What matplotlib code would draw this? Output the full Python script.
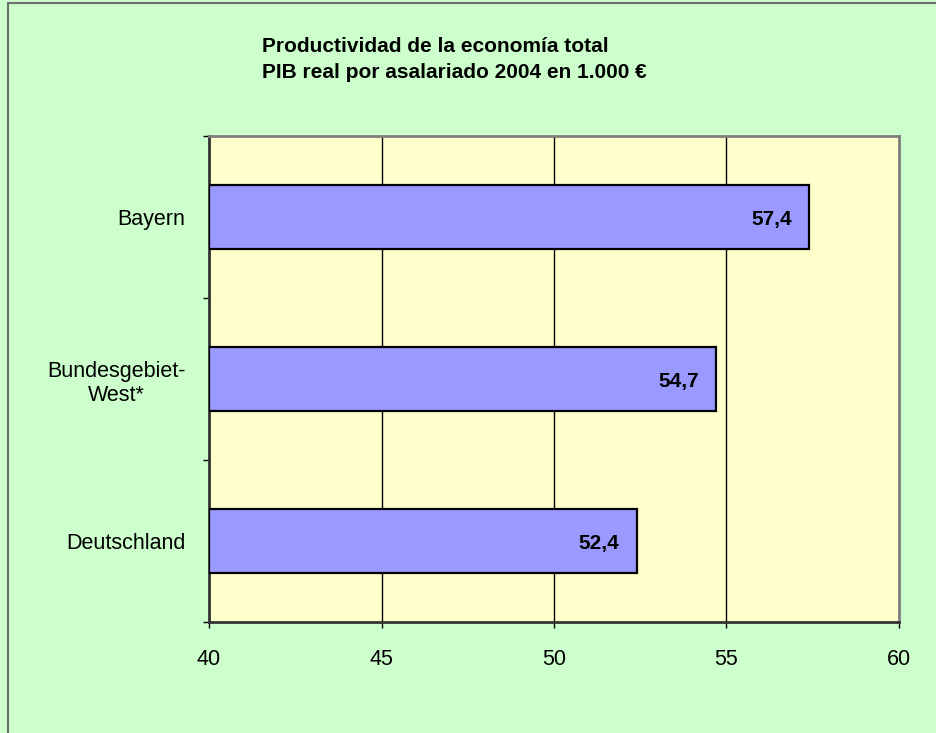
import matplotlib
matplotlib.use("Agg")
import matplotlib.pyplot as plt
from matplotlib.patches import Rectangle
import numpy as np

plt.rcParams['font.family'] = ['Liberation Sans', 'DejaVu Sans']

# data
regions = ["Bayern", "Bundesgebiet-\nWest*", "Deutschland"]
values = [57.4, 54.7, 52.4]
value_labels = ["57,4", "54,7", "52,4"]
xticks = [40, 45, 50, 55, 60]
title_lines = ["Productividad de la economía total",
               "PIB real por asalariado 2004 en 1.000 €"]

W, H = 937, 733
fig = plt.figure(figsize=(W / 100, H / 100), dpi=100)
fig.patch.set_facecolor("#CCFFCC")

# chart border (only top and left visible in the crop)
fig.patches.append(Rectangle((8 / W, -0.1), 1.2, 1.1 - 3 / H,
                             transform=fig.transFigure, fill=False,
                             edgecolor="#6f6f6f", lw=1.5, zorder=0))

ax = fig.add_axes([209 / W, 1 - 622 / H, (899 - 209) / W, (622 - 136) / H])
ax.set_facecolor("#FFFFCC")

ypos = np.arange(len(regions))[::-1]
ax.barh(ypos, [v - 40 for v in values], left=40, height=0.4,
        color="#9999FF", edgecolor="black", lw=1.6, zorder=3)

for y, v, lab in zip(ypos, values, value_labels):
    ax.text(v - 0.5, y, lab, ha="right", va="center_baseline", fontsize=15,
            fontweight="bold", zorder=4)

ax.set_xlim(40, 60)
ax.set_ylim(-0.5, len(regions) - 0.5)
ax.set_xticks(xticks)
ax.set_xticklabels([str(t) for t in xticks])
ax.set_yticks(ypos)
ax.set_yticklabels(regions, multialignment="center")
ax.set_yticks(np.arange(len(regions) + 1) - 0.5, minor=True)

ax.tick_params(axis="y", which="major", length=0, pad=17, labelsize=15.5)
ax.tick_params(axis="y", which="minor", length=4.5, width=1, direction="out")
ax.tick_params(axis="x", which="major", length=4.5, width=1, direction="out",
               pad=15, labelsize=15.5)

ax.grid(axis="x", color="black", lw=1, zorder=1)
ax.set_axisbelow(True)

for side in ["left", "bottom"]:
    ax.spines[side].set_color("#333333")
    ax.spines[side].set_linewidth(2)
for side in ["top", "right"]:
    ax.spines[side].set_color("#808080")
    ax.spines[side].set_linewidth(2)

fig.text(262 / W, 1 - 52 / H, title_lines[0], ha="left", va="baseline",
         fontsize=15, fontweight="bold")
fig.text(262 / W, 1 - 78 / H, title_lines[1], ha="left", va="baseline",
         fontsize=15, fontweight="bold")

fig.savefig("out.png", dpi=100, facecolor=fig.get_facecolor())
